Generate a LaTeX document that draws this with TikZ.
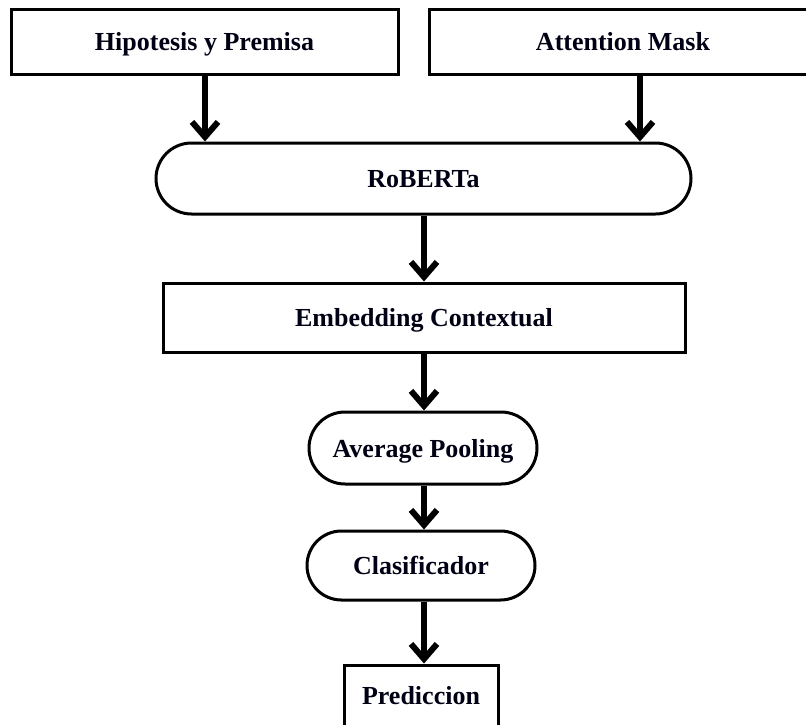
\documentclass[tikz,border=0pt]{standalone}
\usepackage{fontspec}
\setmainfont{Liberation Serif}
\usetikzlibrary{arrows.meta,shapes.misc}
\begin{document}
\begin{tikzpicture}[x=1pt,y=-1pt,
  base/.style={draw=black,line width=3pt,fill=white,inner sep=0pt,
    text height=18pt,text depth=0pt,
    font=\fontsize{26}{30}\selectfont\bfseries,text=black!92!blue},
  boxnode/.style={base,rectangle,minimum width=#1},
  pillnode/.style={base,rounded rectangle,minimum width=#1},
  flow/.style={line width=5.5pt,-{Straight Barb[length=15pt,width=26pt,line width=6pt]}}]
\useasboundingbox (0,0) rectangle (806,724);
% input boxes
\node[boxnode=387pt,minimum height=65pt] (hyp) at (204.5,41.5) {Hipotesis y Premisa};
\node[boxnode=388pt,minimum height=65pt] (att) at (623,41.5) {Attention Mask};
% encoder
\node[pillnode=535pt,minimum height=71pt] (rob) at (423.5,178.5) {RoBERTa};
\node[boxnode=522pt,minimum height=69pt] (emb) at (424,317.5) {Embedding Contextual};
% head
\node[pillnode=228pt,minimum height=72pt] (pool) at (423,448) {Average Pooling};
\node[pillnode=228pt,minimum height=69pt] (cls) at (421,565.5) {Clasificador};
\node[boxnode=154pt,minimum height=61pt] (pred) at (421,695.5) {Prediccion};
% connectors
\coordinate (hypout) at (205,74);
\coordinate (attout) at (640,74);
\draw[flow] (hypout) -- (hypout |- rob.north);
\draw[flow] (attout) -- (attout |- rob.north);
\draw[flow] (rob.south -| 424,0) -- (emb.north -| 424,0);
\draw[flow] (emb.south -| 424,0) -- (pool.north -| 424,0);
\draw[flow] (pool.south -| 424,0) -- (cls.north -| 424,0);
\draw[flow] (cls.south -| 424,0) -- (pred.north -| 424,0);
\end{tikzpicture}
\end{document}
